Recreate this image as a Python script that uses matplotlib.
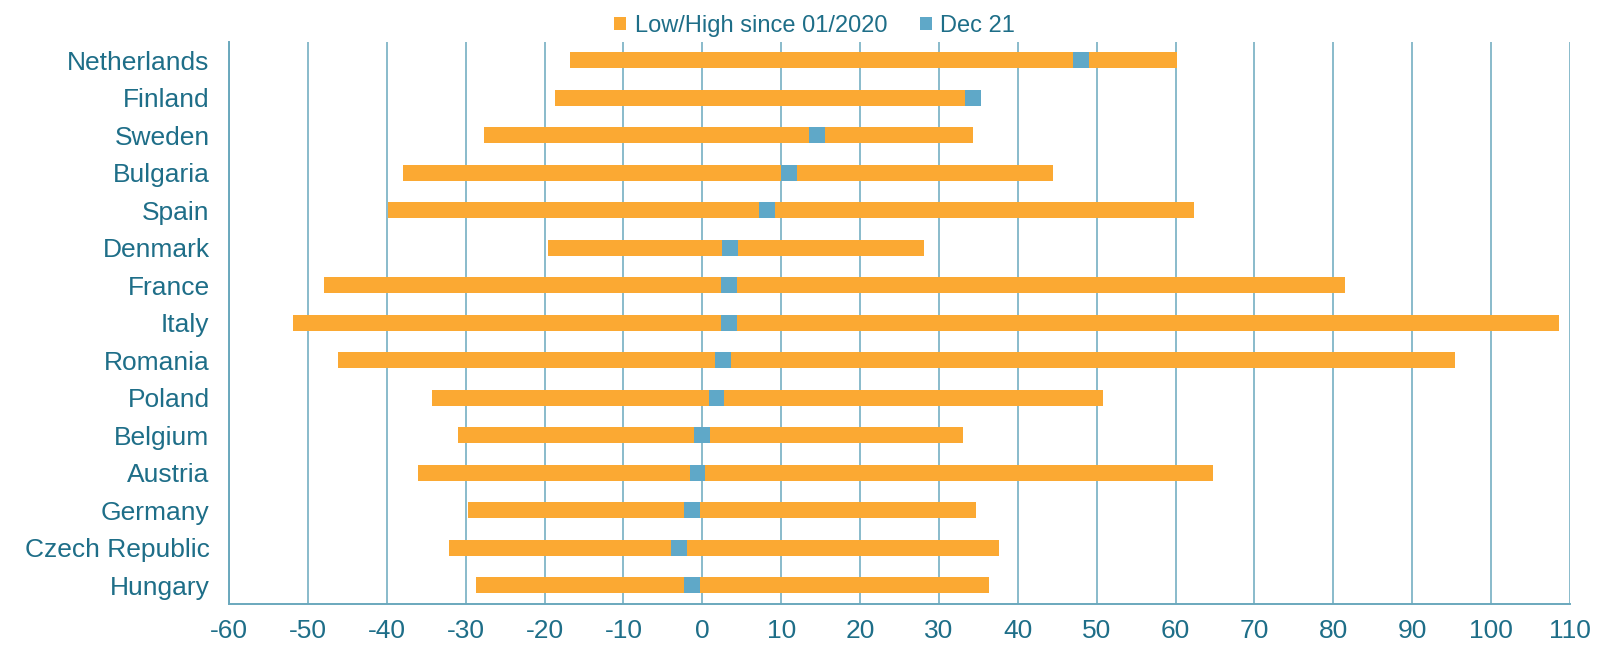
import matplotlib
matplotlib.use("Agg")
import matplotlib.pyplot as plt
from matplotlib.patches import Patch

countries = ["Netherlands", "Finland", "Sweden", "Bulgaria", "Spain", "Denmark",
             "France", "Italy", "Romania", "Poland", "Belgium", "Austria",
             "Germany", "Czech Republic", "Hungary"]
low = [-16.8, -18.7, -27.7, -38.0, -39.9, -19.5, -47.9, -51.9, -46.2, -34.3,
       -31.0, -36.1, -29.7, -32.1, -28.7]
high = [60.2, 35.3, 34.3, 44.4, 62.3, 28.1, 81.5, 108.6, 95.4, 50.8,
        33.0, 64.7, 34.7, 37.6, 36.4]
dec21 = [48.0, 34.3, 14.5, 11.0, 8.2, 3.5, 3.4, 3.4, 2.6, 1.8,
         0.0, -0.6, -1.35, -3.0, -1.3]
xticks = list(range(-60, 111, 10))

ORANGE = "#FBA933"
BLUE = "#5FA8C8"
TEXT = "#1E6E88"
GRID = "#6AA8BD"

plt.rcParams["font.family"] = ["Liberation Sans", "DejaVu Sans"]

fig = plt.figure(figsize=(16.07, 6.51), dpi=100)
ax = fig.add_axes([0.1425, 0.072, 0.977 - 0.1425, 0.936 - 0.072])

y = list(range(len(countries)))
h = 0.43
mw = 2.0
ax.barh(y, [hi - lo for hi, lo in zip(high, low)], left=low, height=h,
        color=ORANGE, zorder=3)
ax.barh(y, [mw] * len(dec21), left=[d - mw / 2 for d in dec21], height=h,
        color=BLUE, zorder=4)

ax.set_xlim(-60, 110)
ax.set_ylim(len(countries) - 0.5, -0.5)
ax.set_xticks(xticks)
ax.set_xticklabels([str(t) for t in xticks])
ax.set_yticks(y)
ax.set_yticklabels(countries)
ax.tick_params(axis="both", length=0, labelsize=19, colors=TEXT)
ax.tick_params(axis="y", pad=14)
ax.tick_params(axis="x", pad=11)
ax.grid(axis="x", color=GRID, linewidth=1.1, zorder=1)
ax.set_axisbelow(True)
for s in ["top", "right"]:
    ax.spines[s].set_visible(False)
for s in ["left", "bottom"]:
    ax.spines[s].set_color(GRID)
    ax.spines[s].set_linewidth(1.4)

handles = [Patch(facecolor=ORANGE, label="Low/High since 01/2020"),
           Patch(facecolor=BLUE, label="Dec 21")]
leg = fig.legend(handles=handles, loc="upper center", bbox_to_anchor=(0.507, 1.01),
                 ncol=2, frameon=False, fontsize=17, handlelength=0.5,
                 handleheight=0.5, handletextpad=0.35, columnspacing=1.4)
for t in leg.get_texts():
    t.set_color(TEXT)

fig.savefig("out.png", dpi=100)
